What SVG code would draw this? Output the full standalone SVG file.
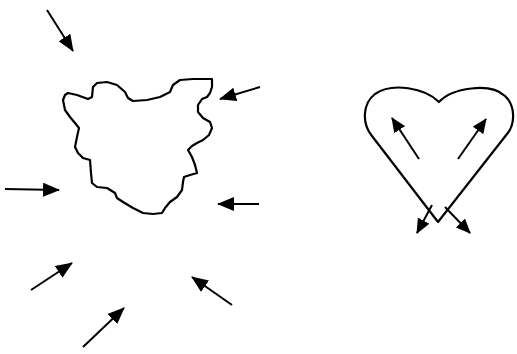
<svg xmlns="http://www.w3.org/2000/svg" width="517" height="354" viewBox="0 0 517 354">
<defs>
<marker id="ah" markerUnits="userSpaceOnUse" markerWidth="17" markerHeight="14" viewBox="0 0 17 14" refX="16" refY="7" orient="auto">
<path d="M0,0 L17,7 L0,14 z" fill="#000"/>
</marker>
<marker id="ahs" markerUnits="userSpaceOnUse" markerWidth="15" markerHeight="13" viewBox="0 0 15 13" refX="14" refY="6.5" orient="auto">
<path d="M0,0 L15,6.5 L0,13 z" fill="#000"/>
</marker>
<style>
.shape{fill:none;stroke:#000;stroke-width:2.2;stroke-linejoin:round;stroke-linecap:round}
.arr{stroke:#000;stroke-width:2;fill:none;marker-end:url(#ah)}
.arrs{stroke:#000;stroke-width:2;fill:none;marker-end:url(#ahs)}
</style>
</defs>
<rect width="517" height="354" fill="#fff"/>
<g id="blob">
<path class="shape" d="M63,100 L65,95 L68,93 L77,95 L88,99 L92,97 L93,87 L97,83 L107,82 L117,85 L125,92 L128,98 L133,101 L147,100 L160,97 L170,92 L173,85 L180,80 L193,79 L212,79 L212,87 L210,93 L207,97 L202,99 L198,105 L198,112 L203,118 L210,122 L212,128 L209,135 L203,140 L197,143 L192,146 L188,150 L192,157 L195,165 L197,173 L190,175 L184,177 L183,182 L182,190 L177,197 L170,202 L165,208 L162,213 L153,214 L143,213 L133,208 L123,202 L117,198 L115,193 L107,188 L97,187 L92,183 L91,173 L90,160 L83,158 L78,153 L75,147 L77,137 L79,128 L75,123 L70,117 L65,110 Z"/>
</g>
<g id="heart">
<path class="shape" d="M438,222 L372,136 C362,124 362,104 375,94 C392,82 425,88 439,102 C452,88 490,82 505,96 C516,106 515,125 507,134 Z"/>
</g>
<g id="connectors">
<line class="arr" x1="47" y1="10" x2="73" y2="51"/>
<line class="arr" x1="260" y1="87" x2="220" y2="99"/>
<line class="arr" x1="5" y1="189" x2="59" y2="190"/>
<line class="arr" x1="259" y1="204" x2="218" y2="204"/>
<line class="arr" x1="31" y1="290" x2="72" y2="263"/>
<line class="arr" x1="232" y1="305" x2="192" y2="277"/>
<line class="arr" x1="83" y1="347" x2="124" y2="308"/>
<line class="arrs" x1="419" y1="159" x2="392" y2="118"/>
<line class="arrs" x1="458" y1="159" x2="486" y2="119"/>
<line class="arrs" x1="432" y1="205" x2="417" y2="233"/>
<line class="arrs" x1="445" y1="207" x2="470" y2="233"/>
</g>
</svg>
